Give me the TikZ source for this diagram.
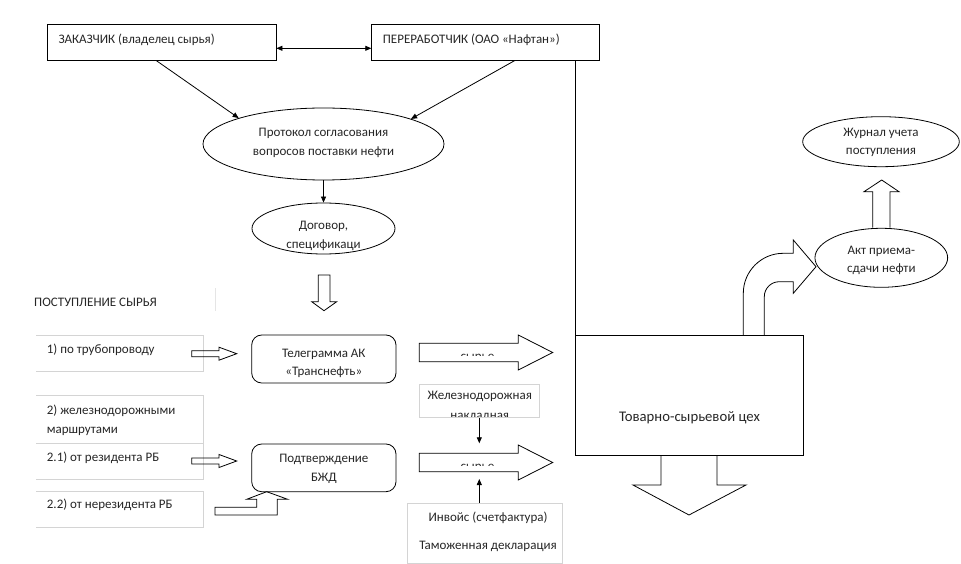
\documentclass[tikz,border=0pt]{standalone}
\usepackage{fontspec}
\setmainfont{Carlito}
\usetikzlibrary{shapes.geometric,arrows.meta,calc}
\begin{document}
\begin{tikzpicture}[x=1pt,y=-1pt,
 txt/.style={font=\fontsize{13}{18.5}\selectfont, text=black!85, inner sep=0pt},
 bigtxt/.style={font=\fontsize{14.7}{17}\selectfont, text=black!85, inner sep=0pt},
 ln/.style={line width=0.8pt, draw=black},
 arr/.style={ln, -{Triangle[length=6pt,width=5pt]}},
 darr/.style={ln, {Triangle[length=6pt,width=5pt]}-{Triangle[length=6pt,width=5pt]}},
 box/.style={ln, rectangle, inner sep=0pt},
 rbox/.style={box, rounded corners=10pt},
 ell/.style={ln, ellipse, inner sep=0pt},
 gline/.style={draw=black!17, line width=0.8pt},
 gbox/.style={gline, rectangle, inner sep=0pt},
 blk/.style={ln, line join=miter},
]
\useasboundingbox (0,0) rectangle (961,564);

% top boxes
\node[box, minimum width=228.7pt, minimum height=36pt] (zak) at (161.65,42) {};
\node[txt, anchor=west] (zakt) at (58.3,39.5) {ЗАКАЗЧИК (владелец сырья)};
\node[box, minimum width=227.3pt, minimum height=36pt] (per) at (485.35,42) {};
\node[txt, anchor=west] (pert) at (382.7,39.5) {ПЕРЕРАБОТЧИК (ОАО «Нафтан»)};

% ellipses
\node[ell, minimum width=241pt, minimum height=72pt] (prot) at (323.5,144) {};
\node[txt, align=center] (prott) at (323.5,143) {Протокол согласования\\вопросов поставки нефти};
\node[ell, minimum width=143pt, minimum height=51pt] (dog) at (323.5,228.5) {};
\node[txt, align=center] (dogt) at (323.5,236) {Договор,\\спецификаци};

% connectors top
\draw[darr] ($(zak.east)+(0,6.3)$) -- ($(per.west)+(0,6.3)$);
\draw[arr] ($(zak.south)+(-5.65,0)$) -- (prot.163.5);
\draw[arr] ($(per.south)+(29.65,0)$) -- (prot.16.5);
\draw[arr] (prot.south) -- (dog.north);

% hollow arrow down from contract
\draw[blk] (318.3,275) -- (318.3,301.7) -- (311.7,301.7) -- (324,310.7) -- (336.7,301.7) -- (330,301.7) -- (330,275) -- cycle;

% intake title
\node[txt, anchor=west] (post) at (34,302) {ПОСТУПЛЕНИЕ СЫРЬЯ};
\draw[draw=black!10, line width=0.8pt] (215,288) -- (215,311);

% left grey boxes
\draw[gline] (36,335) -- (203,335) -- (203,371) -- (36,371);
\node[txt, anchor=west] (l1) at (46.7,350) {1) по трубопроводу};
\draw[gline] (36,395) -- (203,395) -- (203,443) -- (36,443);
\node[txt, anchor=west, align=left] (l2) at (46.7,420.3) {2) железнодорожными\\маршрутами};
\draw[gline] (203,443) -- (203,479.3) -- (36,479.3);
\node[txt, anchor=west] (l21) at (46.7,457.7) {2.1) от резидента РБ};
\draw[gline] (36,491.7) -- (203,491.7) -- (203,527.3) -- (36,527.3);
\node[txt, anchor=west] (l22) at (46.7,505) {2.2) от нерезидента РБ};

% small hollow arrows
\foreach \c in {353.7,461} {
  \draw[blk] (191.7,\c-3) -- (219,\c-3) -- (219,\c-6.5) -- (236.7,\c) -- (219,\c+6.5) -- (219,\c+3) -- (191.7,\c+3) -- cycle;
}
% bent arrow from non-resident
\draw[blk] (215,507.3) -- (256.7,507.3) -- (256.7,499.3) -- (246.7,499.3) -- (266.7,491.7) -- (287.7,499.3) -- (277.3,499.3) -- (277.3,515) -- (215,515) -- cycle;

% rounded boxes
\node[rbox, minimum width=144.3pt, minimum height=48pt] (tel) at (323.85,359) {};
\node[txt, align=center] (telt) at (323.85,363.3) {Телеграмма АК\\«Транснефть»};
\node[rbox, minimum width=144.3pt, minimum height=47.7pt] (bzd) at (323.85,467.85) {};
\node[txt, align=center] (bzdt) at (323.85,469) {Подтверждение\\БЖД};

% big hollow arrows with clipped text
\foreach \c in {352.5,462.5} {
  \draw[blk] (419.3,\c-9.2) -- (518.3,\c-9.2) -- (518.3,\c-17.5) -- (552.7,\c) -- (518.3,\c+17.5) -- (518.3,\c+9.2) -- (419.3,\c+9.2) -- cycle;
  \begin{scope}
    \clip (419.3,\c-9.2) rectangle (518.3,\c+3.4);
    \node[txt, anchor=base] at (477.5,\c+7.8) {сырье};
  \end{scope}
}

% railway bill box
\node[gbox, minimum width=120pt, minimum height=33.4pt] (zhel) at (479.3,401) {};
\node[txt, anchor=base] (zhelt) at (479.8,399.7) {Железнодорожная};
\begin{scope}
  \clip (419.3,384.3) rectangle (539.3,416.2);
  \node[txt, anchor=base] (zhelt2) at (479.8,419.6) {накладная};
\end{scope}
\coordinate (a2top) at (479.3,443.3);
\draw[arr] (zhel.south) -- (a2top);

% invoice box
\node[gbox, minimum width=155.4pt, minimum height=59.7pt] (inv) at (485,533.15) {};
\node[txt] (invt1) at (488,518.3) {Инвойс (счетфактура)};
\node[txt] (invt2) at (488,546.7) {Таможенная декларация};
\coordinate (a2bot) at (479.3,479);
\draw[arr] (inv.north -| zhel.south) -- (a2bot);

% commodity-raw shop
\node[box, minimum width=227.5pt, minimum height=120pt] (tsc) at (689.25,395) {};
\node[bigtxt] (tsct) at (689.5,418) {Товарно-сырьевой цех};
\draw[ln] (per.south -| tsc.north west) -- (tsc.north west);

% down arrow from shop
\draw[blk] (661,455) -- (661,485) -- (633,485) -- (689,515) -- (746,485) -- (717,485) -- (717,455);

% curved arrow to act
\draw[blk] (743.3,335) -- (743.3,293.3) .. controls (743.3,271.2) and (761.2,253.3) .. (783.3,253.3) -- (793.3,253.3) -- (793.3,240) -- (816,266.7) -- (793.3,293.3) -- (793.3,281.7) -- (779.3,281.7) .. controls (771,281.7) and (764.3,288.4) .. (764.3,296.7) -- (764.3,335);

% act and journal
\node[ell, minimum width=132.7pt, minimum height=59pt] (akt) at (881.3,257.8) {};
\node[txt, align=center] (aktt) at (881.3,260.5) {Акт приема-\\сдачи нефти};
\node[ell, minimum width=156.6pt, minimum height=50pt] (zhur) at (881,141.7) {};
\node[txt, align=center] (zhurt) at (881,142.5) {Журнал учета\\поступления};
\draw[blk] (872.7,227.7) -- (872.7,191.7) -- (864,191.7) -- (881.7,180) -- (899,191.7) -- (890,191.7) -- (890,227.7);

\end{tikzpicture}
\end{document}
